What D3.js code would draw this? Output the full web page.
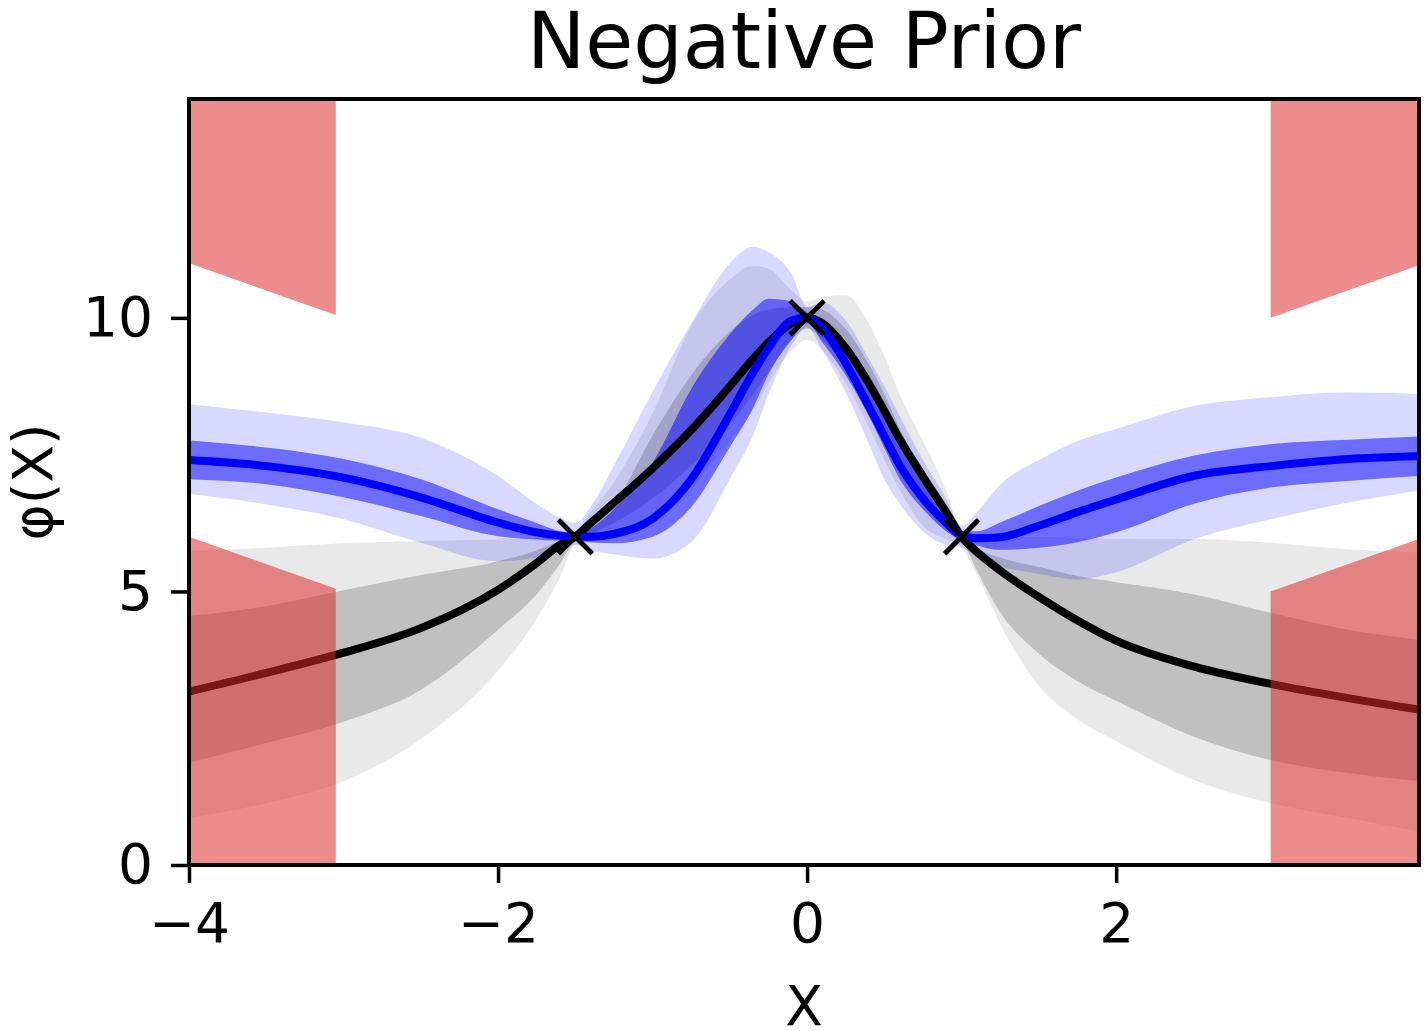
<!DOCTYPE html>
<html>
<head>
<meta charset="utf-8">
<script src="https://cdn.jsdelivr.net/npm/d3@7"></script>
<style>
  body { margin: 0; background: #fff; }
  text { font-family: "DejaVu Sans", sans-serif; }
</style>
</head>
<body>
<svg id="chart" width="1425" height="1031"></svg>
<script>
// sample positions along x
var xs = [-4, -3.5, -3, -2.5, -2, -1.75, -1.6, -1.5, -1.4, -1.25, -1, -0.75, -0.5, -0.35, -0.25, -0.1, 0,
          0.1, 0.25, 0.4, 0.5, 0.6, 0.75, 0.9, 1, 1.1, 1.25, 1.5, 1.75, 2, 2.5, 3, 3.5, 3.96];

// prior (black / gray)
var blackMean = [3.17, 3.51, 3.88, 4.33, 5.03, 5.52, 5.85, 6.0, 6.25, 6.62, 7.25, 7.95, 8.75, 9.25, 9.55, 9.9, 10.0,
                 9.9, 9.45, 8.8, 8.3, 7.78, 7.1, 6.45, 6.0, 5.72, 5.38, 4.9, 4.47, 4.1, 3.63, 3.31, 3.05, 2.84];
var grayHi1 = [4.55, 4.73, 5.02, 5.3, 5.55, 5.75, 5.92, 6.02, 6.25, 6.6, 7.85, 8.95, 9.75, 10.05, 10.15, 10.2, 10.2,
               10.15, 9.8, 9.15, 8.6, 7.97, 7.2, 6.55, 6.05, 5.8, 5.62, 5.45, 5.28, 5.17, 4.95, 4.61, 4.3, 4.12];
var grayLo1 = [1.87, 2.23, 2.62, 3.2, 4.3, 4.95, 5.5, 5.92, 6.05, 6.25, 6.7, 7.3, 8.05, 8.6, 9.0, 9.6, 9.8,
               9.6, 9.1, 8.4, 7.85, 7.3, 6.6, 6.2, 5.95, 5.38, 4.62, 3.86, 3.36, 3.0, 2.35, 1.92, 1.68, 1.53];
var grayHi2 = [5.74, 5.8, 5.88, 5.92, 5.95, 5.97, 6.0, 6.1, 6.45, 7.0, 8.25, 9.85, 10.7, 10.95, 10.9, 10.5, 10.3,
               10.38, 10.42, 9.9, 9.3, 8.6, 7.75, 6.85, 6.1, 6.02, 6.0, 6.0, 5.98, 5.96, 5.96, 5.89, 5.77, 5.71];
var grayLo2 = [0.86, 1.13, 1.53, 2.3, 3.55, 4.5, 5.25, 5.85, 5.9, 6.0, 6.3, 6.9, 7.75, 8.3, 8.8, 9.4, 9.6,
               9.4, 8.8, 8.0, 7.4, 6.85, 6.2, 5.95, 5.8, 5.3, 4.4, 3.27, 2.66, 2.26, 1.56, 1.13, 0.86, 0.61];

// posterior (blue)
var blueMean = [7.40, 7.29, 7.08, 6.72, 6.26, 6.08, 6.02, 6.0, 6.0, 6.05, 6.33, 7.05, 8.24, 9.0, 9.45, 9.95, 10.0,
                9.8, 9.17, 8.38, 7.84, 7.3, 6.7, 6.25, 6.02, 5.97, 5.99, 6.2, 6.45, 6.68, 7.11, 7.29, 7.42, 7.47];
var blueHi1 = [7.76, 7.63, 7.42, 7.05, 6.5, 6.25, 6.1, 6.05, 6.15, 6.5, 7.35, 8.7, 9.7, 10.15, 10.35, 10.3, 10.1,
               9.95, 9.5, 8.75, 8.3, 7.8, 7.1, 6.5, 6.1, 6.1, 6.26, 6.56, 6.84, 7.08, 7.48, 7.69, 7.77, 7.83];
var blueLo1 = [7.05, 6.96, 6.72, 6.38, 6.01, 5.95, 5.93, 5.93, 5.9, 5.88, 6.0, 6.54, 7.64, 8.35, 8.97, 9.6, 9.9,
               9.55, 8.95, 8.2, 7.62, 7.05, 6.5, 6.1, 5.93, 5.84, 5.76, 5.8, 5.9, 6.08, 6.6, 6.9, 7.02, 7.11];
var blueHi2 = [8.42, 8.27, 8.09, 7.81, 7.11, 6.6, 6.35, 6.25, 6.55, 7.3, 8.65, 9.9, 11.0, 11.3, 11.2, 10.8, 10.2,
               10.28, 9.95, 9.25, 8.75, 8.2, 7.4, 6.7, 6.2, 6.45, 6.95, 7.4, 7.75, 7.97, 8.39, 8.55, 8.64, 8.61];
var blueLo2 = [6.78, 6.59, 6.32, 5.89, 5.55, 5.62, 5.72, 5.85, 5.75, 5.68, 5.6, 5.9, 7.05, 7.85, 8.6, 9.5, 9.83,
               9.4, 8.63, 7.7, 7.05, 6.6, 6.1, 5.85, 5.8, 5.62, 5.46, 5.32, 5.22, 5.35, 5.95, 6.32, 6.62, 6.84];

// observations
var obsX = [-1.5, 0, 1];
var obsY = [6, 10, 6];

// constraint regions
var redLeftX = [-4, -3.05];
var redLeftLowTop = [6, 5.05];
var redLeftHighBottom = [11, 10.05];
var redRightX = [3, 3.96];
var redRightLowTop = [5, 5.96];
var redRightHighBottom = [10, 10.96];

var xTicks = [-4, -2, 0, 2];
var yTicks = [0, 5, 10];
var xDomain = [-4, 3.96];
var yDomain = [0, 14];

var svg = d3.select("#chart"),
    margin = {top: 99, right: 6, bottom: 166, left: 189},
    width = +svg.attr("width") - margin.left - margin.right,
    height = +svg.attr("height") - margin.top - margin.bottom;

var x = d3.scaleLinear().domain(xDomain).range([0, width]);
var y = d3.scaleLinear().domain(yDomain).range([height, 0]);

var g = svg.append("g").attr("transform", "translate(" + margin.left + "," + margin.top + ")");

g.append("clipPath").attr("id", "plotclip")
  .append("rect").attr("width", width).attr("height", height);

var plot = g.append("g").attr("clip-path", "url(#plotclip)");

function band(lo, hi) {
  return d3.area()
    .curve(d3.curveMonotoneX)
    .x(function(d, i) { return x(xs[i]); })
    .y0(function(d, i) { return y(lo[i]); })
    .y1(function(d, i) { return y(hi[i]); })(xs);
}

function line(vals) {
  return d3.line()
    .curve(d3.curveMonotoneX)
    .x(function(d, i) { return x(xs[i]); })
    .y(function(d, i) { return y(vals[i]); })(xs);
}

// prior bands
plot.append("path").attr("d", band(grayLo2, grayHi2)).attr("fill", "#000").attr("fill-opacity", 0.086);
plot.append("path").attr("d", band(grayLo1, grayHi1)).attr("fill", "#000").attr("fill-opacity", 0.176);

// posterior bands
plot.append("path").attr("d", band(blueLo2, blueHi2)).attr("fill", "#0000ff").attr("fill-opacity", 0.15);
plot.append("path").attr("d", band(blueLo1, blueHi1)).attr("fill", "#0000ff").attr("fill-opacity", 0.5);

// means
plot.append("path").attr("d", line(blackMean))
  .attr("fill", "none").attr("stroke", "#000").attr("stroke-width", 8);
plot.append("path").attr("d", line(blueMean))
  .attr("fill", "none").attr("stroke", "#0000ff").attr("stroke-width", 8);

// observation markers
var mk = 17;
var marks = plot.selectAll(".obs")
  .data(obsX)
  .enter().append("g")
    .attr("class", "obs")
    .attr("transform", function(d, i) { return "translate(" + x(d) + "," + y(obsY[i]) + ")"; });
marks.append("path")
  .attr("d", "M" + (-mk) + "," + (-mk) + "L" + mk + "," + mk + "M" + (-mk) + "," + mk + "L" + mk + "," + (-mk))
  .attr("stroke", "#000").attr("stroke-width", 5).attr("fill", "none");

// constraint regions
function redArea(xv, lo, hi) {
  return d3.area()
    .x(function(d, i) { return x(xv[i]); })
    .y0(function(d, i) { return y(lo[i]); })
    .y1(function(d, i) { return y(hi[i]); })(xv);
}
var red = plot.append("g").attr("fill", "#dc2a2a").attr("fill-opacity", 0.54);
red.append("path").attr("d", redArea(redLeftX, [0, 0], redLeftLowTop));
red.append("path").attr("d", redArea(redLeftX, redLeftHighBottom, [14, 14]));
red.append("path").attr("d", redArea(redRightX, [0, 0], redRightLowTop));
red.append("path").attr("d", redArea(redRightX, redRightHighBottom, [14, 14]));

// axes
var xAxis = g.append("g")
  .attr("transform", "translate(0," + height + ")")
  .call(d3.axisBottom(x).tickValues(xTicks).tickSize(18).tickPadding(20));
var yAxis = g.append("g")
  .call(d3.axisLeft(y).tickValues(yTicks).tickSize(18).tickPadding(18));

[xAxis, yAxis].forEach(function(a) {
  a.select(".domain").remove();
  a.selectAll(".tick line").attr("stroke", "#000").attr("stroke-width", 3.5);
  a.selectAll(".tick text").attr("fill", "#000").attr("font-size", 55).attr("font-family", "DejaVu Sans");
});

g.append("rect")
  .attr("width", width).attr("height", height)
  .attr("fill", "none").attr("stroke", "#000").attr("stroke-width", 4);

// labels
svg.append("text")
  .attr("x", margin.left + width / 2).attr("y", 68)
  .attr("text-anchor", "middle").attr("font-size", 78)
  .text("Negative Prior");

svg.append("text")
  .attr("x", margin.left + width / 2).attr("y", 1025)
  .attr("text-anchor", "middle").attr("font-size", 55)
  .text("X");

svg.append("text")
  .attr("transform", "translate(52," + (margin.top + height / 2) + ") rotate(-90)")
  .attr("text-anchor", "middle").attr("font-size", 55)
  .text("φ(X)");
</script>
</body>
</html>
